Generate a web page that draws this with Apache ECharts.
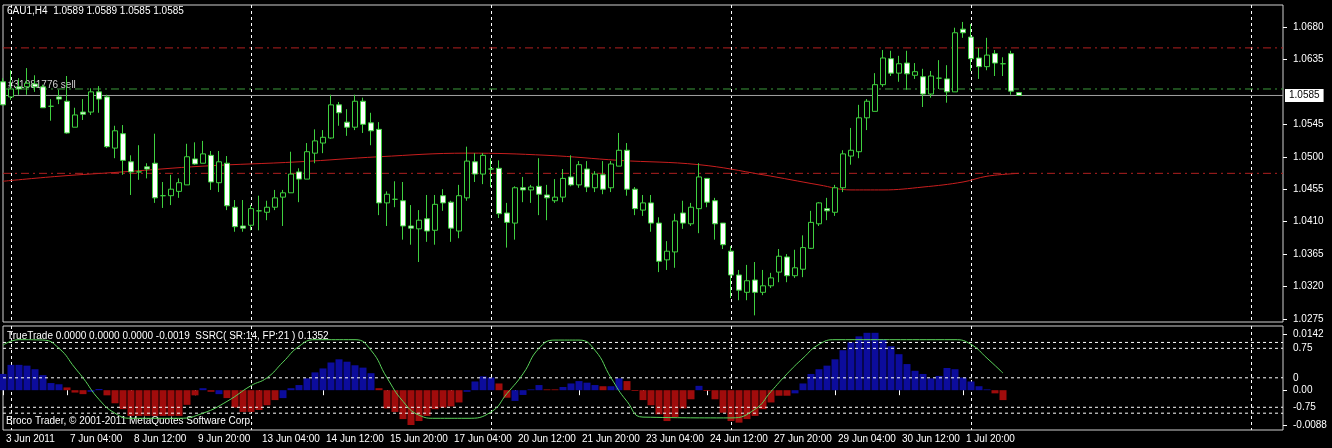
<!DOCTYPE html>
<html>
<head>
<meta charset="utf-8">
<script src="https://cdn.jsdelivr.net/npm/echarts@6/dist/echarts.min.js"></script>
<style>
  html, body { margin: 0; padding: 0; background: #000; }
  #chart { width: 1332px; height: 448px; }
</style>
</head>
<body>
<div id="chart"></div>
<script>
// 6AU1 H4 candles: [open, close, low, high]
const candles = [
  [1.0604,1.0572,1.0572,1.0609],[1.0583,1.0594,1.0579,1.0620],[1.0597,1.0594,1.0586,1.0609],[1.0597,1.0602,1.0586,1.0623],
  [1.0601,1.0597,1.0590,1.0613],[1.0597,1.0568,1.0568,1.0600],[1.0570,1.0570,1.0550,1.0580],[1.0583,1.0580,1.0573,1.0593],
  [1.0577,1.0533,1.0532,1.0612],[1.0541,1.0558,1.0541,1.0568],[1.0562,1.0559,1.0551,1.0580],[1.0562,1.0590,1.0558,1.0595],
  [1.0590,1.0580,1.0561,1.0598],[1.0583,1.0514,1.0512,1.0586],[1.0512,1.0536,1.0498,1.0543],[1.0532,1.0495,1.0475,1.0544],
  [1.0493,1.0479,1.0447,1.0502],[1.0479,1.0479,1.0468,1.0516],[1.0486,1.0483,1.0470,1.0491],[1.0491,1.0443,1.0436,1.0532],
  [1.0446,1.0446,1.0429,1.0465],[1.0446,1.0455,1.0433,1.0475],[1.0452,1.0464,1.0443,1.0470],[1.0461,1.0500,1.0461,1.0518],
  [1.0497,1.0490,1.0489,1.0520],[1.0491,1.0504,1.0491,1.0522],[1.0502,1.0465,1.0454,1.0508],[1.0464,1.0493,1.0451,1.0508],
  [1.0491,1.0432,1.0426,1.0501],[1.0430,1.0403,1.0396,1.0440],[1.0404,1.0401,1.0396,1.0440],[1.0405,1.0428,1.0398,1.0433],
  [1.0425,1.0425,1.0398,1.0446],[1.0423,1.0430,1.0412,1.0439],[1.0430,1.0443,1.0426,1.0454],[1.0444,1.0450,1.0404,1.0454],
  [1.0450,1.0476,1.0450,1.0507],[1.0479,1.0469,1.0437,1.0484],[1.0469,1.0507,1.0469,1.0519],[1.0505,1.0522,1.0491,1.0538],
  [1.0519,1.0527,1.0505,1.0537],[1.0526,1.0572,1.0525,1.0586],[1.0572,1.0561,1.0543,1.0576],[1.0548,1.0541,1.0529,1.0566],
  [1.0541,1.0577,1.0537,1.0586],[1.0577,1.0545,1.0533,1.0582],[1.0547,1.0536,1.0516,1.0561],[1.0538,1.0436,1.0419,1.0548],
  [1.0436,1.0448,1.0404,1.0452],[1.0441,1.0441,1.0430,1.0466],[1.0439,1.0404,1.0385,1.0465],[1.0404,1.0401,1.0378,1.0433],
  [1.0400,1.0412,1.0354,1.0426],[1.0414,1.0397,1.0382,1.0447],[1.0398,1.0434,1.0378,1.0447],[1.0446,1.0436,1.0425,1.0455],
  [1.0437,1.0401,1.0382,1.0439],[1.0397,1.0446,1.0387,1.0461],[1.0443,1.0494,1.0439,1.0514],[1.0493,1.0476,1.0465,1.0505],
  [1.0476,1.0502,1.0462,1.0505],[1.0483,1.0483,1.0458,1.0498],[1.0484,1.0421,1.0415,1.0495],[1.0422,1.0409,1.0374,1.0436],
  [1.0408,1.0457,1.0385,1.0459],[1.0457,1.0454,1.0437,1.0472],[1.0454,1.0458,1.0436,1.0461],[1.0459,1.0448,1.0419,1.0498],
  [1.0447,1.0443,1.0412,1.0461],[1.0439,1.0444,1.0436,1.0469],[1.0444,1.0470,1.0437,1.0483],[1.0472,1.0461,1.0459,1.0502],
  [1.0461,1.0489,1.0457,1.0494],[1.0483,1.0458,1.0451,1.0494],[1.0457,1.0476,1.0451,1.0480],[1.0475,1.0455,1.0448,1.0494],
  [1.0457,1.0490,1.0451,1.0494],[1.0487,1.0509,1.0487,1.0533],[1.0509,1.0455,1.0446,1.0519],[1.0455,1.0428,1.0419,1.0458],
  [1.0426,1.0436,1.0418,1.0447],[1.0436,1.0408,1.0396,1.0447],[1.0408,1.0355,1.0340,1.0416],[1.0357,1.0369,1.0343,1.0383],
  [1.0368,1.0411,1.0346,1.0421],[1.0422,1.0408,1.0400,1.0439],[1.0407,1.0430,1.0404,1.0436],[1.0428,1.0472,1.0394,1.0491],
  [1.0470,1.0437,1.0430,1.0470],[1.0439,1.0407,1.0385,1.0443],[1.0408,1.0378,1.0372,1.0408],[1.0369,1.0336,1.0304,1.0376],
  [1.0336,1.0315,1.0301,1.0343],[1.0312,1.0328,1.0301,1.0350],[1.0329,1.0312,1.0280,1.0354],[1.0312,1.0321,1.0308,1.0343],
  [1.0321,1.0332,1.0318,1.0339],[1.0340,1.0362,1.0326,1.0372],[1.0361,1.0335,1.0326,1.0365],[1.0335,1.0346,1.0332,1.0371],
  [1.0344,1.0374,1.0333,1.0391],[1.0373,1.0409,1.0372,1.0425],[1.0407,1.0436,1.0404,1.0437],[1.0428,1.0425,1.0412,1.0443],
  [1.0423,1.0457,1.0418,1.0461],[1.0457,1.0504,1.0451,1.0509],[1.0501,1.0509,1.0489,1.0540],[1.0507,1.0554,1.0498,1.0572],
  [1.0554,1.0577,1.0537,1.0580],[1.0563,1.0600,1.0563,1.0616],[1.0600,1.0637,1.0597,1.0648],[1.0636,1.0616,1.0612,1.0647],
  [1.0616,1.0629,1.0604,1.0640],[1.0630,1.0615,1.0593,1.0647],[1.0613,1.0618,1.0608,1.0630],[1.0611,1.0587,1.0569,1.0622],
  [1.0587,1.0612,1.0582,1.0619],[1.0609,1.0609,1.0594,1.0634],[1.0608,1.0590,1.0575,1.0627],[1.0590,1.0672,1.0590,1.0679],
  [1.0677,1.0672,1.0665,1.0687],[1.0666,1.0636,1.0619,1.0684],[1.0637,1.0625,1.0608,1.0651],[1.0625,1.0641,1.0620,1.0665],
  [1.0643,1.0630,1.0612,1.0648],[1.0629,1.0629,1.0612,1.0638],[1.0643,1.0591,1.0586,1.0647],[1.0589,1.0585,1.0585,1.0589]
];

// moving average readings [bar index, value]
const maPoints = [
  [0,1.0466],[7,1.0473],[15,1.0479],[25,1.0487],[37,1.0493],[47,1.0500],[58,1.0505],[68,1.0502],
  [77,1.0495],[87,1.0489],[95,1.0475],[102,1.0461],[106,1.0454],[110,1.0454],[115,1.0458],
  [120,1.0465],[123,1.0473],[127,1.0477]
];

// TrueTrade histogram
const hist = [
  0.0041,0.0064,0.0064,0.0062,0.0053,0.0038,0.0018,0.0015,0.0007,-0.0006,
  -0.0010,-0.0004,0.0003,-0.0013,-0.0033,-0.0048,-0.0065,-0.0065,-0.0065,-0.0065,
  -0.0065,-0.0065,-0.0065,-0.0037,-0.0013,0.0005,-0.0004,-0.0010,-0.0020,-0.0044,
  -0.0055,-0.0055,-0.0050,-0.0038,-0.0025,-0.0020,0.0005,0.0013,0.0030,0.0045,
  0.0055,0.0070,0.0078,0.0072,0.0063,0.0057,0.0043,0.0005,-0.0046,-0.0055,
  -0.0073,-0.0088,-0.0078,-0.0065,-0.0048,-0.0044,-0.0041,-0.0031,-0.0004,0.0022,
  0.0035,0.0032,0.0017,-0.0019,-0.0027,-0.0012,0.0002,0.0013,0.0002,0.0002,
  0.0008,0.0017,0.0023,0.0019,0.0013,0.0010,0.0010,0.0030,0.0023,-0.0002,
  -0.0025,-0.0038,-0.0061,-0.0078,-0.0068,-0.0046,-0.0023,0.0011,-0.0002,-0.0023,
  -0.0057,-0.0078,-0.0082,-0.0073,-0.0065,-0.0048,-0.0031,-0.0014,-0.0014,-0.0008,
  0.0017,0.0041,0.0053,0.0062,0.0078,0.0101,0.0121,0.0136,0.0145,0.0145,
  0.0129,0.0111,0.0091,0.0066,0.0049,0.0041,0.0030,0.0036,0.0056,0.0053,
  0.0032,0.0022,0.0010,0.0002,-0.0008,-0.0025
];
// b = blue, r = red
const histTrend = 'bbbbbbbb' + 'rrr' + 'bb' + 'rrrrrrrrrrrr' + 'b' + 'r' + 'b' + 'rrrrrrr' +
  'bbbbbbbbbbbb' + 'rrrrrrrrrrr' + 'bbbb' + 'rr' + 'bbbb' + 'rr' + 'bbbbb' + 'r' + 'bb' +
  'rrrrrrrrr' + 'b' + 'rrrrrrrrrrr' + 'bbbbbbbbbbbbbbbbbbbbbbbbb' + 'rr';

// SSRC readings [bar index, value]
const ssrc = [
  [0,0.83],[2,0.97],[5,0.96],[7,0.75],[9,0.25],[10,0],[12,-0.55],[14,-0.9],[16,-1.03],[22,-1.03],
  [25,-0.9],[28,-0.6],[31,-0.2],[33,0],[35,0.4],[37,0.8],[39,0.97],[44,0.97],[46,0.7],[48,0],
  [50,-0.6],[52,-0.95],[54,-1.03],[58,-1.03],[61,-0.87],[63,-0.4],[65,0.1],[67,0.75],[69,0.96],
  [72,0.96],[74,0.7],[76,0],[78,-0.6],[80,-1.0],[91,-1.02],[94,-0.8],[96,-0.35],[98,0.1],
  [100,0.5],[102,0.85],[104,0.97],[119,0.97],[121,0.85],[123,0.5],[125,0.12]
];

const timeLabels = ['3 Jun 2011','7 Jun 04:00','8 Jun 12:00','9 Jun 20:00','13 Jun 04:00','14 Jun 12:00',
  '15 Jun 20:00','17 Jun 04:00','20 Jun 12:00','21 Jun 20:00','23 Jun 04:00','24 Jun 12:00',
  '27 Jun 20:00','29 Jun 04:00','30 Jun 12:00','1 Jul 20:00'];
const priceTicks = [1.0680,1.0635,1.0545,1.0500,1.0455,1.0410,1.0365,1.0320,1.0275];
const histTicks = [0.0142,0,-0.0088];
const ssrcLevels = [0.9,0.75,0,-0.75,-0.9];
const gridBars = [1,31,61,91,121,156];
const levelsRed = [1.0651,1.0477];
const orderLevel = 1.0594;
const bid = 1.0585;

const slots = 161;
const cats = Array.from({length: slots}, (_, i) => i);
const font = 'Liberation Sans';
const last = slots - 1;

const chart = echarts.init(document.getElementById('chart'));
const xBase = (gi, showLabels) => ({
  type: 'category', gridIndex: gi, data: cats, boundaryGap: false,
  axisLine: {show: false},
  axisTick: showLabels ? {show: true, interval: (i) => i % 8 === 0 && i / 8 < timeLabels.length,
    length: 5, lineStyle: {color: '#fff'}} : {show: false},
  axisLabel: showLabels ? {
    show: true, interval: (i) => i % 8 === 0 && i / 8 < timeLabels.length,
    formatter: (v) => timeLabels[v / 8] || '', color: '#fff', fontFamily: font, fontSize: 10,
    align: 'left', margin: 4, padding: [0, 0, 0, 3]
  } : {show: false},
  splitLine: {show: true, interval: (i) => gridBars.indexOf(i) >= 0,
    lineStyle: {color: '#fff', type: [3, 3], width: 1}}
});

const dashDot = [8, 4, 2, 4];
const levelLine = (v, color, type, extra) => Object.assign({
  type: 'line', xAxisIndex: 0, yAxisIndex: 0, data: [[0, v], [last, v]], showSymbol: false, silent: true,
  lineStyle: {color: color, type: type, width: 1}, z: 2
}, extra || {});

const option = {
  backgroundColor: '#000',
  animation: false,
  grid: [
    {left: 3, top: 5, width: 1280, height: 317, show: true, borderColor: '#d0d0d0', borderWidth: 1, backgroundColor: '#000'},
    {left: 3, top: 326, width: 1280, height: 104, show: true, borderColor: '#d0d0d0', borderWidth: 1, backgroundColor: '#000'}
  ],
  xAxis: [xBase(0, false), xBase(1, true)],
  yAxis: [
    {type: 'value', gridIndex: 0, position: 'right', min: 1.02708, max: 1.07105, scale: true,
      splitLine: {show: false}, axisLine: {show: false},
      axisTick: {show: true, customValues: priceTicks, length: 4, lineStyle: {color: '#fff'}},
      axisLabel: {customValues: priceTicks, color: '#fff', fontFamily: font, fontSize: 10, margin: 10,
        formatter: (v) => v.toFixed(4)}},
    {type: 'value', gridIndex: 1, position: 'right', min: -0.01006, max: 0.01622,
      splitLine: {show: false}, axisLine: {show: false},
      axisTick: {show: true, customValues: histTicks, length: 4, lineStyle: {color: '#fff'}},
      axisLabel: {customValues: histTicks, color: '#fff', fontFamily: font, fontSize: 10, margin: 10,
        formatter: (v) => v === 0 ? '0.00' : v.toFixed(4)}},
    {type: 'value', gridIndex: 1, position: 'right', min: -1.328, max: 1.318,
      splitLine: {show: false}, axisLine: {show: false}, axisTick: {show: false},
      axisLabel: {customValues: ssrcLevels, color: '#fff', fontFamily: font, fontSize: 10, margin: 10,
        formatter: (v) => String(v)}}
  ],
  series: [
    ...levelsRed.map(v => levelLine(v, '#b02020', dashDot)),
    levelLine(orderLevel, '#3c9a3c', dashDot),
    levelLine(bid, '#a0a0a0', 'solid', {
      endLabel: {show: true, formatter: bid.toFixed(4), backgroundColor: '#fff', color: '#000',
        fontFamily: font, fontSize: 10, padding: [2, 4, 1, 4], distance: 2}
    }),
    {
      type: 'line', xAxisIndex: 0, yAxisIndex: 0, data: maPoints, smooth: 0.4, showSymbol: false,
      lineStyle: {color: '#c81e1e', width: 1}, silent: true, z: 1
    },
    {
      type: 'candlestick', xAxisIndex: 0, yAxisIndex: 0, data: candles, barWidth: 5,
      itemStyle: {color: '#000', color0: '#ffffff', borderColor: '#3fd03f', borderColor0: '#3fd03f', borderWidth: 1},
      z: 3
    },
    {
      type: 'bar', xAxisIndex: 1, yAxisIndex: 1, barWidth: 7, silent: true,
      data: hist.map((v, i) => ({value: v, itemStyle: {color: histTrend[i] === 'b' ? '#0c0c9c' : '#a00c0c'}}))
    },
    ...ssrcLevels.map(v => ({
      type: 'line', xAxisIndex: 1, yAxisIndex: 2, data: [[0, v], [last, v]], showSymbol: false, silent: true,
      lineStyle: {color: '#fff', type: [3, 3], width: 1}, z: 2
    })),
    {
      type: 'line', xAxisIndex: 1, yAxisIndex: 2, data: ssrc, smooth: 0.5, showSymbol: false, silent: true,
      lineStyle: {color: '#5ad25a', width: 1}, z: 4
    }
  ],
  graphic: [
    {type: 'text', left: 7, top: 6, style: {text: '6AU1,H4  1.0589 1.0589 1.0585 1.0585', fill: '#fff', font: '10px "Liberation Sans"'}},
    {type: 'text', left: 8, top: 80, style: {text: '#31081776 sell', fill: '#d0d0d0', font: '10px "Liberation Sans"'}},
    {type: 'text', left: 7, top: 331, style: {text: 'TrueTrade 0.0000 0.0000 0.0000 -0.0019  SSRC( SR:14, FP:21 ) 0.1352', fill: '#fff', font: '10px "Liberation Sans"'}},
    {type: 'text', left: 6, top: 416, style: {text: 'Broco Trader, © 2001-2011 MetaQuotes Software Corp.', fill: '#fff', font: '10px "Liberation Sans"'}}
  ]
};
chart.setOption(option);
</script>
</body>
</html>
